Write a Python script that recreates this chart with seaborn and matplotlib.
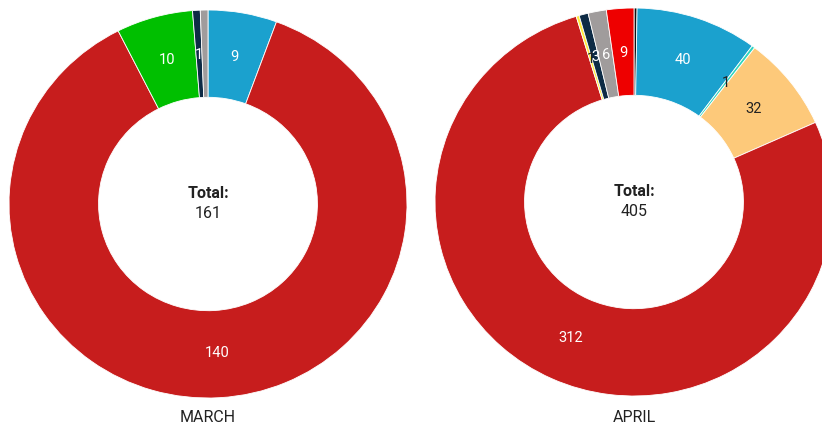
import numpy as np
import matplotlib.pyplot as plt
import seaborn as sns

sns.set_theme(style="white")
plt.rcParams['font.family'] = ['Roboto', 'DejaVu Sans']

# March
march_values = [9, 140, 10, 1, 1]
march_colors = ['#1ba1ce', '#c71d1d', '#00bf00', '#0d2b45', '#a09c9c']
march_labels = ['9', '140', '10', '1', '']
march_text = ['white', 'white', 'white', 'white', 'white']

# April
april_values = [1, 40, 1, 32, 312, 1, 3, 6, 9]
april_colors = ['#111111', '#1ba1ce', '#2fd6c0', '#fdc97a', '#c71d1d',
                '#ffeb3b', '#0d2b45', '#a09c9c', '#ee0000']
april_labels = ['', '40', '1', '32', '312', '1', '3', '6', '9']
april_text = ['white', 'white', '#222222', '#222222', 'white',
              '#222222', 'white', 'white', 'white']

W, H = 822, 428
fig = plt.figure(figsize=(W / 100, H / 100), dpi=100)


def donut(cx, cy, rx, ry, values, colors, labels, tcolors, title):
    ax = fig.add_axes([(cx - rx) / W, (H - cy - ry) / H, 2 * rx / W, 2 * ry / H])
    ax.pie(values, colors=colors, startangle=90, counterclock=False,
           radius=1, wedgeprops=dict(width=0.45, edgecolor='white', linewidth=0.6))
    ax.set_aspect('auto')
    ax.set_xlim(-1, 1)
    ax.set_ylim(-1, 1)
    total = sum(values)
    ang = 90.0
    for v, lab, tc in zip(values, labels, tcolors):
        mid = ang - v / total * 360 / 2
        ang -= v / total * 360
        if lab:
            ax.text(0.77 * np.cos(np.radians(mid)), 0.77 * np.sin(np.radians(mid)), lab,
                    ha='center', va='center', color=tc, fontsize=10.5)
    ax.text(0, 0.055, 'Total:', ha='center', va='center', fontsize=11.5,
            fontweight='bold', color='#222222')
    ax.text(0, -0.05, str(total), ha='center', va='center', fontsize=11.5, color='#222222')
    fig.text(cx / W, 1 - 418 / H, title, ha='center', va='center', fontsize=11.5,
             color='#222222')
    return ax


donut(208, 204, 199, 194, march_values, march_colors, march_labels, march_text, 'MARCH')
donut(634, 202, 199, 194, april_values, april_colors, april_labels, april_text, 'APRIL')

fig.savefig('out.png', dpi=100)
